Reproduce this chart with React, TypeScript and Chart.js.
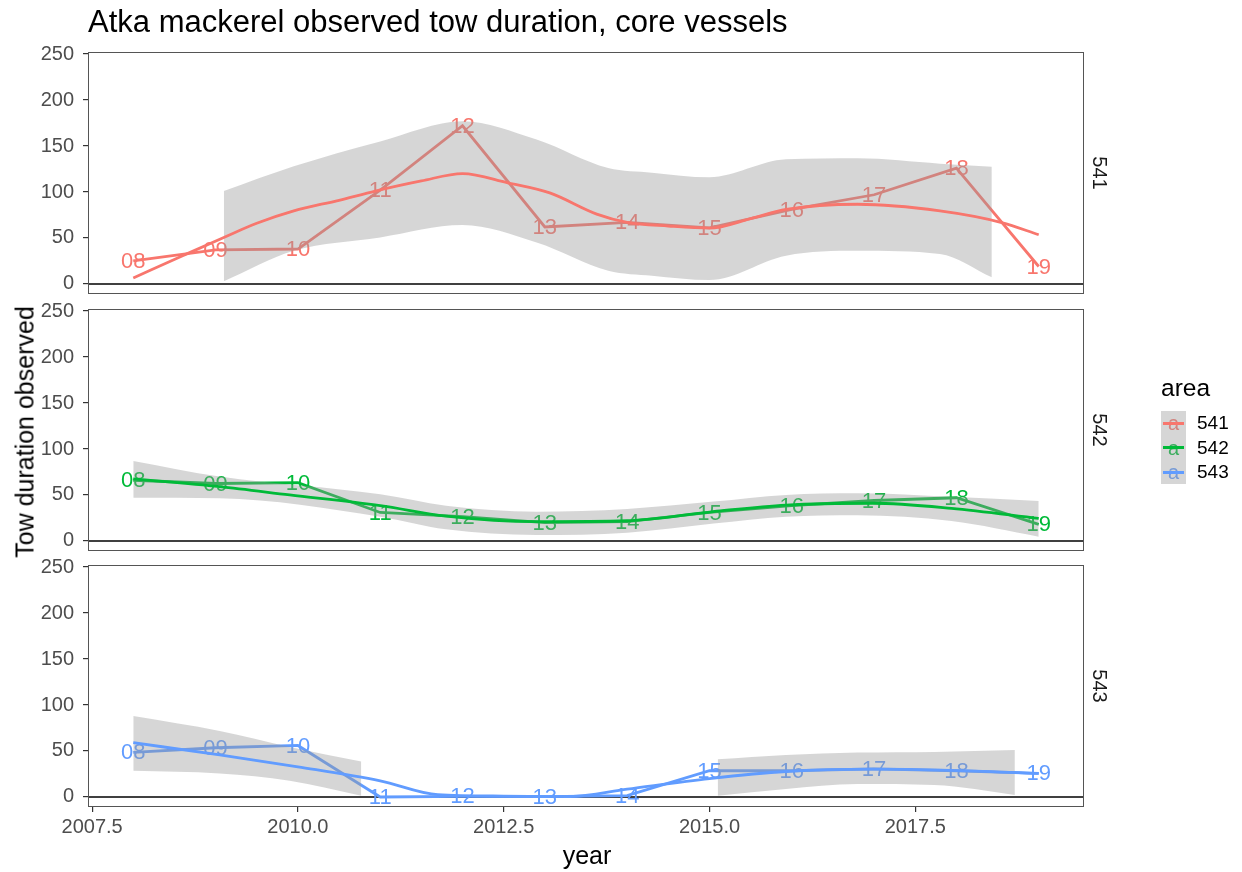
import React, { useEffect, useRef } from "react";
import { Chart, registerables } from "chart.js";

Chart.register(...registerables);

// ---------- data ----------
const years = [2008, 2009, 2010, 2011, 2012, 2013, 2014, 2015, 2016, 2017, 2018, 2019];
const pointLabels = ["08", "09", "10", "11", "12", "13", "14", "15", "16", "17", "18", "19"];

const values541 = [25, 37, 38, 102, 172, 62, 67, 61, 81, 97, 126, 19];
const values542 = [66, 62.5, 63.5, 31, 26.5, 20, 21, 31, 38.5, 44, 47, 18];
const values543 = [48.5, 53.5, 56, 0, 0.7, 0.3, 1.4, 28.5, 28.5, 30.5, 28.5, 25.6];

const smooth541X = [2008, 2008.6, 2009.1, 2009.5, 2009.95, 2010.5, 2010.94, 2011.5, 2012.0, 2012.55, 2013.06, 2013.63, 2014.0, 2014.5, 2015.0, 2015.5, 2015.93, 2016.8, 2017.8, 2018.55, 2019];
const smooth541Y = [6.5, 30.7, 50.6, 66, 79.5, 91, 101, 112, 120, 110, 99, 76, 67, 63, 60.7, 71, 81, 86.7, 79.5, 66.8, 53.5];
const smooth542X = [2008, 2009.05, 2009.9, 2011.0, 2011.8, 2012.9, 2014.0, 2015.05, 2015.93, 2016.98, 2017.94, 2019];
const smooth542Y = [67.4, 59, 50, 38.4, 27, 21, 22, 32, 39, 41, 35.5, 24.5];
const smooth543X = [2008, 2009.05, 2010.0, 2011.0, 2011.7, 2012.5, 2013.3, 2014.0, 2015.0, 2015.93, 2016.98, 2017.94, 2019];
const smooth543Y = [59, 45.7, 32.8, 17.6, 2.5, 1.0, 0.4, 8.5, 20, 27.7, 30.3, 29, 25.6];

const ribbon541X = [2009.1, 2009.95, 2011.0, 2012.0, 2012.9, 2013.77, 2014.3, 2015.0, 2015.93, 2016.8, 2017.8, 2018.43];
const ribbon541Hi = [101, 128, 155, 177, 157, 126, 121, 116, 135.5, 136.6, 130.8, 127.5];
const ribbon541Lo = [2.9, 36, 50.6, 64, 45, 14.5, 9, 4.3, 30.7, 36, 32.5, 7.2];

const ribbon542X = [2008, 2009.05, 2011.0, 2011.8, 2012.9, 2014.0, 2015.05, 2015.93, 2016.8, 2017.94, 2019];
const ribbon542Hi = [87, 70, 50.7, 38.4, 31.9, 34.8, 42.8, 50, 51.8, 48, 43.5];
const ribbon542Lo = [47, 46.4, 26.4, 12.7, 6.5, 9, 19, 26.4, 28, 21.7, 4.7];

const ribbon543aX = [2008, 2009.05, 2009.9, 2010.77];
const ribbon543aHi = [87.9, 71.7, 54.4, 38.5];
const ribbon543aLo = [28.5, 25.6, 17.7, 1.4];
const ribbon543bX = [2015.1, 2015.93, 2016.8, 2017.73, 2018.71];
const ribbon543bHi = [41, 45.7, 48.3, 49, 51];
const ribbon543bLo = [1.4, 8.6, 14, 13, 2.2];

const yTicks = [0, 50, 100, 150, 200, 250];
const xTicks = [2007.5, 2010.0, 2012.5, 2015.0, 2017.5];
const areaNames = ["541", "542", "543"];
const areaColors = ["#F8766D", "#00BA38", "#619CFF"];
const keyTextColors = ["rgb(210,132,127)", "rgb(61,173,95)", "rgb(119,155,214)"];

// ---------- layout ----------
const FONT = '"Liberation Sans", Arial, Helvetica, sans-serif';
const PANEL_LEFT = 88;
const PANEL_RIGHT = 1084;
const PANEL_TOPS = [52, 309, 565];
const PANEL_H = 242;
const PAD = 22;
const XAXIS_H = 38;

type Ribbon = { x: number[]; hi: number[]; lo: number[] };
type PanelSpec = {
  color: string;
  values: number[];
  smoothX: number[];
  smoothY: number[];
  ribbons: Ribbon[];
};

const panels: PanelSpec[] = [
  { color: areaColors[0], values: values541, smoothX: smooth541X, smoothY: smooth541Y, ribbons: [{ x: ribbon541X, hi: ribbon541Hi, lo: ribbon541Lo }] },
  { color: areaColors[1], values: values542, smoothX: smooth542X, smoothY: smooth542Y, ribbons: [{ x: ribbon542X, hi: ribbon542Hi, lo: ribbon542Lo }] },
  {
    color: areaColors[2], values: values543, smoothX: smooth543X, smoothY: smooth543Y,
    ribbons: [
      { x: ribbon543aX, hi: ribbon543aHi, lo: ribbon543aLo },
      { x: ribbon543bX, hi: ribbon543bHi, lo: ribbon543bLo },
    ],
  },
];

const zip = (xs: number[], ys: number[]) => xs.map((x, i) => ({ x, y: ys[i] }));

function makeConfig(p: PanelSpec, showX: boolean): any {
  const datasets: any[] = [];
  datasets.push({
    data: zip(p.smoothX, p.smoothY),
    borderColor: p.color,
    borderWidth: 2.8,
    pointRadius: 0,
    cubicInterpolationMode: "monotone",
    fill: false,
    order: 0,
  });
  datasets.push({
    data: zip(years, p.values),
    borderColor: p.color,
    borderWidth: 2.8,
    pointRadius: 0,
    tension: 0,
    fill: false,
    order: 10,
  });
  p.ribbons.forEach((r) => {
    const lowIdx = datasets.length;
    datasets.push({
      data: zip(r.x, r.lo),
      borderColor: "rgba(0,0,0,0)",
      borderWidth: 0,
      pointRadius: 0,
      cubicInterpolationMode: "monotone",
      fill: false,
      order: 5,
    });
    datasets.push({
      data: zip(r.x, r.hi),
      borderColor: "rgba(0,0,0,0)",
      borderWidth: 0,
      pointRadius: 0,
      cubicInterpolationMode: "monotone",
      fill: { target: lowIdx },
      backgroundColor: "rgba(153,153,153,0.4)",
      order: 4,
    });
  });

  const labelsPlugin = {
    id: "ptLabels",
    afterDatasetDraw(chart: any, args: any) {
      if (args.index !== 1) return;
      const ctx = chart.ctx;
      ctx.save();
      ctx.font = `22px ${FONT}`;
      ctx.fillStyle = p.color;
      ctx.textAlign = "center";
      ctx.textBaseline = "middle";
      args.meta.data.forEach((pt: any, i: number) => {
        ctx.fillText(pointLabels[i], pt.x, pt.y + 1);
      });
      ctx.restore();
    },
  };

  const framePlugin = {
    id: "frame",
    beforeDatasetsDraw(chart: any) {
      const { ctx, chartArea } = chart;
      const y0 = chart.scales.y.getPixelForValue(0);
      ctx.save();
      ctx.strokeStyle = "#000";
      ctx.lineWidth = 1.4;
      ctx.beginPath();
      ctx.moveTo(chartArea.left, y0);
      ctx.lineTo(chartArea.right, y0);
      ctx.stroke();
      ctx.restore();
    },
    afterDraw(chart: any) {
      const { ctx, chartArea } = chart;
      ctx.save();
      ctx.strokeStyle = "#555";
      ctx.lineWidth = 1;
      ctx.strokeRect(chartArea.left + 0.5, chartArea.top + 0.5, chartArea.right - chartArea.left - 1, chartArea.bottom - chartArea.top - 1);
      ctx.restore();
    },
  };

  return {
    type: "line",
    data: { datasets },
    plugins: [framePlugin, labelsPlugin],
    options: {
      animation: false,
      responsive: false,
      maintainAspectRatio: false,
      events: [],
      layout: { padding: { left: 0, right: 1242 - PANEL_RIGHT, top: PAD, bottom: PAD } },
      plugins: { legend: { display: false }, tooltip: { enabled: false }, title: { display: false } },
      scales: {
        x: {
          type: "linear",
          min: 2007.45,
          max: 2019.55,
          display: showX,
          afterBuildTicks: (s: any) => {
            s.ticks = xTicks.map((v) => ({ value: v }));
          },
          afterFit: (s: any) => {
            if (showX) s.height = XAXIS_H;
          },
          ticks: {
            callback: (v: any) => Number(v).toFixed(1),
            color: "#4D4D4D",
            font: { size: 20, family: FONT },
            padding: 3,
            maxRotation: 0,
            autoSkip: false,
          },
          grid: { drawOnChartArea: false, drawTicks: true, tickLength: 5, color: "#333", lineWidth: 1.2 },
          border: { display: false },
        },
        y: {
          type: "linear",
          min: -10.9,
          max: 252.2,
          afterBuildTicks: (s: any) => {
            s.ticks = yTicks.map((v) => ({ value: v }));
          },
          afterFit: (s: any) => {
            s.width = PANEL_LEFT;
          },
          ticks: {
            color: "#4D4D4D",
            font: { size: 20, family: FONT },
            padding: 9,
          },
          grid: { drawOnChartArea: false, drawTicks: true, tickLength: 5, color: "#333", lineWidth: 1.2 },
          border: { display: false },
        },
      },
    },
  };
}

export default function App() {
  const r0 = useRef<HTMLCanvasElement>(null);
  const r1 = useRef<HTMLCanvasElement>(null);
  const r2 = useRef<HTMLCanvasElement>(null);

  useEffect(() => {
    const refs = [r0, r1, r2];
    const charts = refs.map((r, i) => new Chart(r.current as HTMLCanvasElement, makeConfig(panels[i], i === 2)));
    return () => charts.forEach((c) => c.destroy());
  }, []);

  const canvasH = (i: number) => (i === 2 ? PAD + PANEL_H + XAXIS_H + PAD : PAD + PANEL_H + PAD);
  const refs = [r0, r1, r2];

  return (
    <div style={{ position: "fixed", left: 0, top: 0, width: 1242, height: 872, background: "#fff", fontFamily: FONT, overflow: "hidden" }}>
      {refs.map((r, i) => (
        <canvas
          key={i}
          ref={r}
          width={1242}
          height={canvasH(i)}
          style={{ position: "absolute", left: 0, top: PANEL_TOPS[i] - PAD, width: 1242, height: canvasH(i) }}
        />
      ))}
      <div style={{ position: "absolute", left: 88, top: 22, transform: "translateY(-50%)", fontSize: 31, lineHeight: "36px", color: "#000", whiteSpace: "nowrap" }}>
        Atka mackerel observed tow duration, core vessels
      </div>
      <div style={{ position: "absolute", left: 25, top: 432, transform: "translate(-50%,-50%) rotate(-90deg)", fontSize: 25, color: "#000", whiteSpace: "nowrap" }}>
        Tow duration observed
      </div>
      <div style={{ position: "absolute", left: 587, top: 855, transform: "translate(-50%,-50%)", fontSize: 25, color: "#000", whiteSpace: "nowrap" }}>
        year
      </div>
      {areaNames.map((n, i) => (
        <div key={n} style={{ position: "absolute", left: 1099, top: PANEL_TOPS[i] + PANEL_H / 2, transform: "translate(-50%,-50%) rotate(90deg)", fontSize: 20, color: "#1A1A1A", whiteSpace: "nowrap" }}>
          {n}
        </div>
      ))}
      <div style={{ position: "absolute", left: 1161, top: 388, transform: "translateY(-50%)", fontSize: 24.5, lineHeight: "28px", color: "#000" }}>area</div>
      <div style={{ position: "absolute", left: 1161, top: 411, width: 25, height: 73, background: "#D6D6D6" }} />
      {areaNames.map((n, i) => {
        const cy = 423 + i * 24.5;
        return (
          <React.Fragment key={n}>
            <div style={{ position: "absolute", left: 1173.5, top: cy, transform: "translate(-50%,-50%)", fontSize: 20, lineHeight: "20px", color: keyTextColors[i] }}>a</div>
            <div style={{ position: "absolute", left: 1163, top: cy - 1.5, width: 21, height: 3, background: areaColors[i] }} />
            <div style={{ position: "absolute", left: 1197, top: cy, transform: "translateY(-50%)", fontSize: 19, lineHeight: "20px", color: "#000" }}>{n}</div>
          </React.Fragment>
        );
      })}
    </div>
  );
}
